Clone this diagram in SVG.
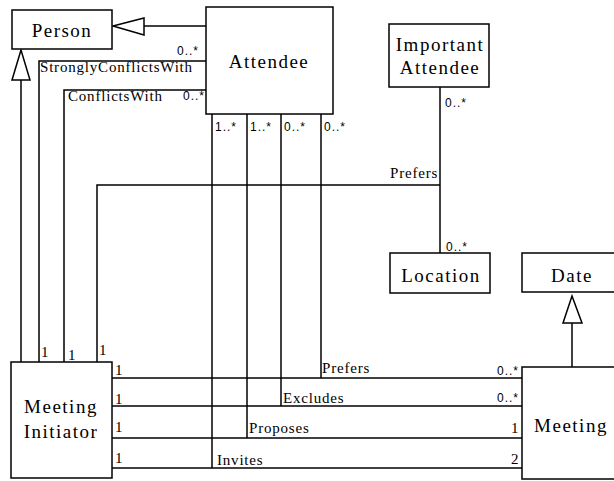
<svg xmlns="http://www.w3.org/2000/svg" width="614" height="481" viewBox="0 0 614 481">
<style>
.box{fill:#fff;stroke:#000;stroke-width:1.5}
.ln{fill:none;stroke:#000;stroke-width:1.5}
.tri{fill:#fff;stroke:#000;stroke-width:1.5}
</style>
<rect width="614" height="481" fill="#fff"/>
<g id="connectors">
  <line class="ln" x1="144" y1="26" x2="206" y2="26"/>
  <polygon class="tri" points="113,26 144,18 144,35"/>
  <line class="ln" x1="21" y1="80" x2="21" y2="362"/>
  <polygon class="tri" points="21,50 12,80 30,80"/>
  <polyline class="ln" points="39,362 39,61 206,61"/>
  <polyline class="ln" points="64,362 64,90 206,90"/>
  <polyline class="ln" points="97,362 97,185 440,185"/>
  <line class="ln" x1="440" y1="87" x2="440" y2="253"/>
  <line class="ln" x1="572" y1="323" x2="572" y2="367"/>
  <polygon class="tri" points="572,296 563,323 582,323"/>
  <line class="ln" x1="212" y1="114" x2="212" y2="468"/>
  <line class="ln" x1="247" y1="114" x2="247" y2="438"/>
  <line class="ln" x1="281" y1="114" x2="281" y2="406"/>
  <line class="ln" x1="321" y1="114" x2="321" y2="378"/>
  <line class="ln" x1="112" y1="378" x2="522" y2="378"/>
  <line class="ln" x1="112" y1="406" x2="522" y2="406"/>
  <line class="ln" x1="112" y1="438" x2="522" y2="438"/>
  <line class="ln" x1="112" y1="468" x2="522" y2="468"/>
  <g font-family="Liberation Serif" font-size="15" letter-spacing="0.8" fill="#000">
    <text x="40" y="72">StronglyConflictsWith</text>
    <text x="68" y="101">ConflictsWith</text>
    <text x="390" y="178">Prefers</text>
    <text x="322" y="373">Prefers</text>
    <text x="283" y="403">Excludes</text>
    <text x="249" y="433">Proposes</text>
    <text x="217" y="465">Invites</text>
  </g>
  <g font-family="Liberation Serif" font-size="15" fill="#000">
    <text x="41" y="357">1</text>
    <text x="68" y="360">1</text>
    <text x="99" y="355">1</text>
    <text x="115" y="375">1</text>
    <text x="115" y="404">1</text>
    <text x="115" y="432">1</text>
    <text x="115" y="463">1</text>
    <text x="511" y="433">1</text>
    <text x="511" y="464">2</text>
  </g>
  <g font-family="Liberation Sans" font-size="12" letter-spacing="1" fill="#000">
    <text x="177" y="55">0..*</text>
    <text x="183" y="100">0..*</text>
    <text x="445" y="107">0..*</text>
    <text x="446" y="251">0..*</text>
    <text x="215" y="131">1..*</text>
    <text x="250" y="131">1..*</text>
    <text x="284" y="131">0..*</text>
    <text x="324" y="131">0..*</text>
    <text x="497" y="375">0..*</text>
    <text x="497" y="402">0..*</text>
  </g>
</g>
<g font-family="Liberation Serif" font-size="19" letter-spacing="1.5" text-anchor="middle" fill="#000">
<g id="person">
  <rect class="box" x="12" y="10" width="100" height="39"/>
  <text x="62" y="37">Person</text>
</g>
<g id="attendee">
  <rect class="box" x="206" y="7" width="127" height="107"/>
  <text x="269" y="68">Attendee</text>
</g>
<g id="important-attendee">
  <rect class="box" x="389" y="24" width="100" height="63"/>
  <text x="440" y="51">Important</text>
  <text x="440" y="74">Attendee</text>
</g>
<g id="location">
  <rect class="box" x="390" y="253" width="100" height="40"/>
  <text x="441" y="282">Location</text>
</g>
<g id="date">
  <rect class="box" x="522" y="253" width="100" height="39"/>
  <text x="572" y="282">Date</text>
</g>
<g id="meeting-initiator">
  <rect class="box" x="11" y="362" width="101" height="116"/>
  <text x="61" y="413">Meeting</text>
  <text x="61" y="438">Initiator</text>
</g>
<g id="meeting">
  <rect class="box" x="522" y="367" width="100" height="112"/>
  <text x="571" y="432">Meeting</text>
</g>
</g>
</svg>
